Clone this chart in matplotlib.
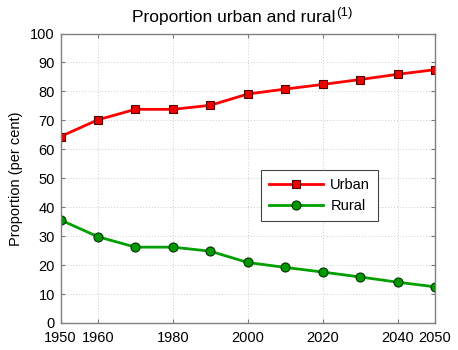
import matplotlib
matplotlib.use("Agg")
import matplotlib.pyplot as plt

plt.rcParams['font.family'] = ['Liberation Sans', 'DejaVu Sans']

years = [1950, 1960, 1970, 1980, 1990, 2000, 2010, 2020, 2030, 2040, 2050]
urban = [64.4, 70.2, 73.8, 73.8, 75.2, 79.1, 80.8, 82.4, 84.1, 85.9, 87.5]
rural = [35.6, 29.8, 26.2, 26.2, 24.8, 20.9, 19.2, 17.6, 15.9, 14.1, 12.5]
xticks = [1950, 1960, 1980, 2000, 2020, 2040, 2050]
yticks = [0, 10, 20, 30, 40, 50, 60, 70, 80, 90, 100]

W, H = 458, 350
fig = plt.figure(figsize=(W / 100, H / 100), dpi=100)
ax = fig.add_axes([60.5 / W, 1 - 323 / H, (435 - 60.5) / W, (323 - 33.5) / H])

ax.plot(years, urban, color='#ff0000', lw=2, marker='s', ms=5.5,
        mfc='#ee0000', mec='#550000', mew=0.8, label='Urban')
ax.plot(years, rural, color='#00a000', lw=2, marker='o', ms=6.5,
        mfc='#009900', mec='#003300', mew=0.8, label='Rural')

ax.set_xlim(1950, 2050)
ax.set_ylim(0, 100)
ax.set_xticks(xticks)
ax.set_yticks(yticks)
ax.tick_params(direction='in', length=3, width=0.8, color='#777777',
               top=True, right=True, labelsize=10.5)
ax.tick_params(axis='x', pad=6)
ax.tick_params(axis='y', pad=4)
for s in ax.spines.values():
    s.set_color('#808080')
    s.set_linewidth(1.0)
ax.grid(True, linestyle=(0, (1, 2)), color='#cccccc', lw=0.7)

ax.set_ylabel('Proportion (per cent)', fontsize=10.5, labelpad=5)

# title with a footnote marker set as a raised, smaller text
fig.text(335 / W, 1 - 22 / H, 'Proportion urban and rural', fontsize=12.5,
         ha='right', va='baseline')
fig.text(336 / W, 1 - 16 / H, '(1)', fontsize=9.5, ha='left', va='baseline')

leg = ax.legend(loc='upper left', bbox_to_anchor=((261 - 60.5) / 374.5, 1 - (170 - 33.5) / 289.5),
                fontsize=10.5, fancybox=False, framealpha=1, edgecolor='#444444',
                handlelength=3.7, handletextpad=0.5, borderpad=0.55, labelspacing=0.5,
                borderaxespad=0)
leg.get_frame().set_linewidth(0.8)

fig.savefig('out.png', dpi=100)
